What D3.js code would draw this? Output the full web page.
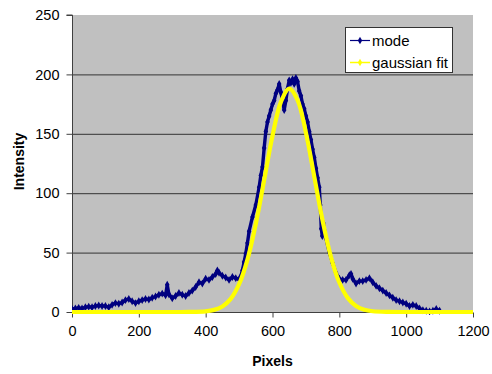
<!DOCTYPE html>
<html>
<head>
<meta charset="utf-8">
<script src="https://cdn.jsdelivr.net/npm/d3@7"></script>
<style>
  html, body { margin: 0; padding: 0; background: #ffffff; }
  svg { display: block; font-family: Arial, "Liberation Sans", sans-serif; }
</style>
</head>
<body>
<svg id="chart" width="492" height="374"></svg>
<script>
// ---- data ----
const modeX = [0,10,20,30,40,50,60,70,80,90,100,110,120,130,140,150,160,170,180,190,200,210,220,230,240,250,260,270,280,285,290,300,310,320,330,340,350,360,370,380,390,400,410,420,430,435,440,450,460,470,480,490,500,505,510,515,520,525,530,540,550,560,565,570,575,580,585,590,595,600,605,610,615,620,625,630,635,640,645,650,655,660,665,670,675,680,685,690,695,700,705,710,715,720,725,730,735,740,743,746,749,752,760,770,780,790,800,810,820,830,835,840,850,860,870,880,890,900,910,920,930,940,950,960,970,980,990,1000,1010,1020,1030,1040,1050,1060,1070,1080,1090,1100];
const modeY = [2.5,3,3.5,3,4,4.5,4,5,5.5,5,5,4,6,7.5,7,8,10,11,9,7.5,9,10,11,10.5,12,13,14.5,15.5,14,23,15,11.5,13.5,16,14.5,13.5,16,18,21,25,24,28,27,29.5,32,35,33,30.5,29,27,29.5,28.5,27.5,30,35,42,49,58,68,80,90,105,115,122,138,152,160,165,170,175,178,184,187,192,185,178,170,178,188,195,193,196,192,197,194,186,182,175,171,165,160,152,145,137,130,121,113,105,90,70,64,75,62,50,41,33,28,27,27,31,32,28,24,26,26,27,28.5,25,22,20,18,16,14,12,10,9,8,7,5,6,5,3,1.5,1,0.5,1,2.5,1];

const fitX = [0,100,200,300,350,400,425,450,475,500,525,550,575,600,625,650,675,700,725,750,775,800,825,850,875,900,950,1000,1100,1200];
const fitY = [0,0,0,0,0.05,0.6,1.8,4.7,11.1,23.4,44.1,74.1,111,148.3,176.7,188,178.4,151,114,76.8,46.2,24.8,11.9,5.1,1.9,0.65,0.1,0,0,0];

const xTicks = [0,200,400,600,800,1000,1200];
const yTicks = [0,50,100,150,200,250];
const seriesNames = ["mode", "gaussian fit"];
const seriesColors = ["#000080", "#ffff00"];

// ---- layout ----
const svg = d3.select("#chart");
const plot = {left: 72, top: 15, right: 473, bottom: 312};

const x = d3.scaleLinear().domain([0, 1200]).range([plot.left, plot.right]);
const y = d3.scaleLinear().domain([0, 250]).range([plot.bottom, plot.top]);

// plot background
svg.append("rect")
  .attr("x", plot.left).attr("y", plot.top)
  .attr("width", plot.right - plot.left).attr("height", plot.bottom - plot.top)
  .attr("fill", "#c0c0c0");

// gridlines
svg.append("g").selectAll("line")
  .data(yTicks.filter(d => d > 0 && d < 250))
  .join("line")
  .attr("x1", plot.left).attr("x2", plot.right)
  .attr("y1", d => y(d) + 0.5).attr("y2", d => y(d) + 0.5)
  .attr("stroke", "#333333").attr("stroke-width", 1);

// axes
const yAxis = d3.axisLeft(y).tickValues(yTicks).tickSize(6).tickPadding(7).tickFormat(d3.format("d"));
const xAxis = d3.axisBottom(x).tickValues(xTicks).tickSize(5).tickPadding(8).tickFormat(d3.format("d"));

const gy = svg.append("g").attr("transform", `translate(${plot.left + 0.5},0)`).call(yAxis);
const gx = svg.append("g").attr("transform", `translate(0,${plot.bottom + 0.5})`).call(xAxis);
[gx, gy].forEach(g => {
  g.select(".domain").attr("stroke", "#404040");
  g.selectAll(".tick line").attr("stroke", "#404040");
  g.selectAll(".tick text").attr("fill", "#000").attr("font-size", "14.5px")
    .attr("font-family", "Arial, 'Liberation Sans', sans-serif");
});
gy.select(".domain").attr("d", `M-6,${plot.top}H0V${plot.bottom}`);
gx.select(".domain").attr("d", `M${plot.left},0H${plot.right}`);

// clip
svg.append("clipPath").attr("id", "clip").append("rect")
  .attr("x", plot.left).attr("y", plot.top - 5)
  .attr("width", plot.right - plot.left + 4).attr("height", plot.bottom - plot.top + 8);

const modeData = modeX.map((d, i) => [d, modeY[i]]);
const fitData = fitX.map((d, i) => [d, fitY[i]]);

const gPlot = svg.append("g").attr("clip-path", "url(#clip)");

// mode series
gPlot.append("path")
  .datum(modeData)
  .attr("fill", "none")
  .attr("stroke", seriesColors[0])
  .attr("stroke-width", 3.4)
  .attr("stroke-linejoin", "round")
  .attr("d", d3.line().x(d => x(d[0])).y(d => y(d[1])));

const diamond = d3.symbol().type(d3.symbolDiamond).size(18);
gPlot.append("g").selectAll("path")
  .data(modeData)
  .join("path")
  .attr("transform", d => `translate(${x(d[0])},${y(d[1])})`)
  .attr("d", diamond)
  .attr("fill", seriesColors[0]);

// gaussian fit
gPlot.append("path")
  .datum(fitData)
  .attr("fill", "none")
  .attr("stroke", seriesColors[1])
  .attr("stroke-width", 4.2)
  .attr("stroke-linejoin", "round")
  .attr("d", d3.line().x(d => x(d[0])).y(d => y(d[1])).curve(d3.curveCatmullRom));

// axis titles
svg.append("text")
  .attr("x", (plot.left + plot.right) / 2).attr("y", 366)
  .attr("text-anchor", "middle")
  .attr("font-size", "14px").attr("font-weight", "bold")
  .text("Pixels");

svg.append("text")
  .attr("transform", `translate(24,${(plot.top + plot.bottom) / 2 - 2}) rotate(-90)`)
  .attr("text-anchor", "middle")
  .attr("font-size", "14px").attr("font-weight", "bold")
  .text("Intensity");

// legend
const lg = svg.append("g");
lg.append("rect")
  .attr("x", 345.5).attr("y", 27.5).attr("width", 107).attr("height", 45)
  .attr("fill", "#ffffff").attr("stroke", "#333333").attr("stroke-width", 1);

const legendRows = [40.5, 62.5];
seriesNames.forEach((name, i) => {
  const cy = legendRows[i];
  lg.append("line")
    .attr("x1", 350).attr("x2", 370).attr("y1", cy).attr("y2", cy)
    .attr("stroke", seriesColors[i]).attr("stroke-width", i === 0 ? 1.2 : 1.5);
  lg.append("path")
    .attr("transform", `translate(360,${cy})`)
    .attr("d", d3.symbol().type(d3.symbolDiamond).size(16))
    .attr("fill", seriesColors[i]);
  lg.append("text")
    .attr("x", 372).attr("y", cy + 5.5)
    .attr("font-size", "15px")
    .text(name);
});
</script>
</body>
</html>
